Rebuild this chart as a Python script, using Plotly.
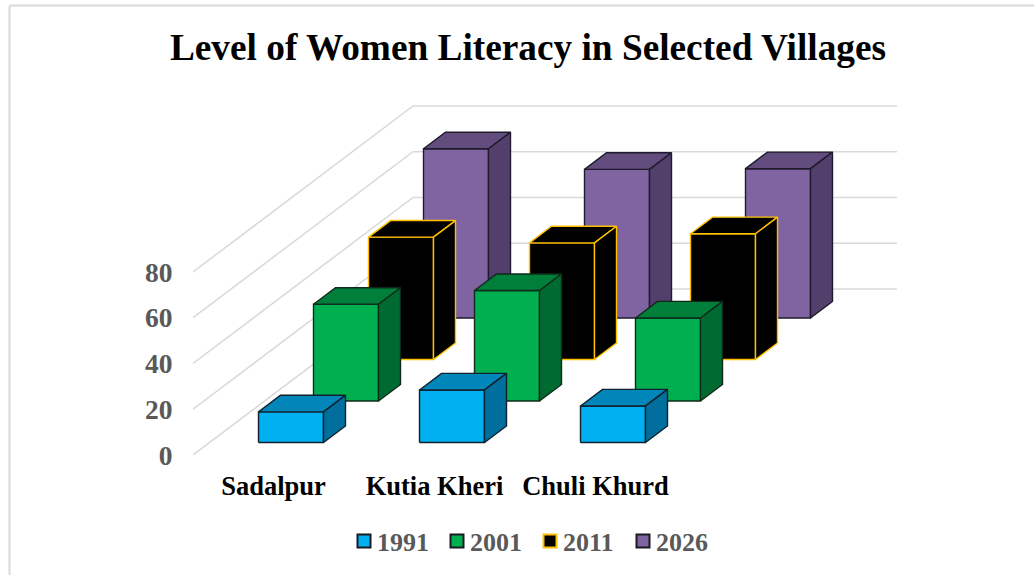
import plotly.graph_objects as go

categories = ["Sadalpur", "Kutia Kheri", "Chuli Khurd"]
years = ["1991", "2001", "2011", "2026"]
v1991 = [13.4, 23, 16]
v2001 = [42.3, 48.3, 36.3]
v2011 = [53.5, 51, 55]
v2026 = [74, 65, 65.3]
series_values = [v1991, v2001, v2011, v2026]
y_ticks = [0, 20, 40, 60, 80]

front_colors = ["#00B0F0", "#00B050", "#000000", "#8064A2"]
top_colors = ["#0086B8", "#007F3A", "#000000", "#634D7E"]
side_colors = ["#006F9E", "#006B30", "#000000", "#533F6B"]
edge_colors = ["#10202C", "#0F2A1A", "#FFC000", "#1F1A2C"]
GRID = "#D9D9D9"
TEXT = "#595959"
SERIF = "Liberation Serif"

W, H = 1034, 575
L, R, T, B = 193, 897, 100, 455
X_UNIT = 161.0          # px per category
Y_UNIT = 183.0 / 80     # px per value unit
X_MIN = -0.5
X_MAX = X_MIN + (R - L) / X_UNIT
Y_MAX = (B - T) / Y_UNIT
DEPTH_X = 220.0 / X_UNIT   # floor depth in x units
DEPTH_Y = 166.0 / Y_UNIT   # floor depth in y units
HALF_W = 32.5 / X_UNIT
BAR_SHIFT = 1.0 / X_UNIT
N = len(years)


def proj(x, v, d):
    return x + d * DEPTH_X, v + d * DEPTH_Y


def poly(points):
    xs, ys = [], []
    for x, v, d in points:
        px, py = proj(x, v, d)
        xs.append(px)
        ys.append(py)
    xs.append(xs[0])
    ys.append(ys[0])
    return xs, ys


fig = go.Figure()

# legend entries
for s, year in enumerate(years):
    fig.add_trace(go.Scatter(
        x=[None], y=[None], mode="markers", name=year, hoverinfo="skip",
        marker=dict(symbol="square", size=13, color=front_colors[s],
                    line=dict(color="#FFC000" if s == 2 else "#1A1A22", width=2)),
    ))

# walls
for t in y_ticks:
    xs = [proj(X_MIN, t, 0)[0], proj(X_MIN, t, 1)[0], X_MAX]
    ys = [proj(X_MIN, t, 0)[1], proj(X_MIN, t, 1)[1], proj(X_MIN, t, 1)[1]]
    fig.add_trace(go.Scatter(x=xs, y=ys, mode="lines", showlegend=False, hoverinfo="skip",
                             line=dict(color=GRID, width=1.5)))


def face(xs, ys, fill, edge):
    fig.add_trace(go.Scatter(
        x=xs, y=ys, mode="lines", fill="toself", fillcolor=fill, showlegend=False,
        hoverinfo="skip", line=dict(color=edge, width=1.4), cliponaxis=False,
    ))


# bars, back to front
for s in range(N - 1, -1, -1):
    d0 = (s + 0.3) / N
    d1 = (s + 0.7) / N
    for c in range(len(categories)):
        v = series_values[s][c]
        a, b = c - HALF_W + BAR_SHIFT, c + HALF_W + BAR_SHIFT
        xs, ys = poly([(a, 0, d0), (b, 0, d0), (b, v, d0), (a, v, d0)])
        face(xs, ys, front_colors[s], edge_colors[s])
        xs, ys = poly([(a, v, d0), (b, v, d0), (b, v, d1), (a, v, d1)])
        face(xs, ys, top_colors[s], edge_colors[s])
        xs, ys = poly([(b, 0, d0), (b, 0, d1), (b, v, d1), (b, v, d0)])
        face(xs, ys, side_colors[s], edge_colors[s])

fig.update_layout(
    width=W, height=H, autosize=False,
    margin=dict(l=L, r=W - R, t=T, b=H - B, pad=0),
    paper_bgcolor="white", plot_bgcolor="rgba(0,0,0,0)",
    title=dict(text="Level of Women Literacy in Selected Villages",
               x=528 / W, xanchor="center", xref="container",
               y=1 - 47 / H, yanchor="middle", yref="container",
               font=dict(family=SERIF, size=37.3, color="#000000", weight=700)),
    xaxis=dict(range=[X_MIN, X_MAX], tickvals=list(range(len(categories))), ticktext=categories,
               showgrid=False, zeroline=False, showline=False,
               ticks="outside", ticklen=7, tickcolor="rgba(0,0,0,0)",
               tickfont=dict(family=SERIF, size=26.5, color="#000000", weight=700)),
    yaxis=dict(range=[0, Y_MAX], tickvals=y_ticks,
               showgrid=False, zeroline=False, showline=False,
               ticks="outside", ticklen=14, tickcolor="rgba(0,0,0,0)",
               tickfont=dict(family=SERIF, size=27.5, color=TEXT, weight=700)),
    legend=dict(orientation="h", x=344 / W, xref="container", xanchor="left",
                y=1 - 541 / H, yref="container", yanchor="middle",
                entrywidth=48, entrywidthmode="pixels",
                font=dict(family=SERIF, size=26, color=TEXT, weight=700),
                bgcolor="rgba(0,0,0,0)"),
    shapes=[
        dict(type="line", xref="paper", yref="paper",
             x0=(9.5 - L) / (R - L), x1=(W - L) / (R - L),
             y0=(B - 5.5) / (B - T), y1=(B - 5.5) / (B - T),
             line=dict(color=GRID, width=2)),
        dict(type="line", xref="paper", yref="paper",
             x0=(9.5 - L) / (R - L), x1=(9.5 - L) / (R - L),
             y0=(B - 5.5) / (B - T), y1=(B - H) / (B - T),
             line=dict(color=GRID, width=2)),
    ],
)

POST = (
    "document.body.style.margin='0';document.body.style.overflow='hidden';"
    "document.querySelectorAll('.legendtext').forEach(function(t){t.setAttribute('x','33');});"
)
fig.write_html("out.html", config={"displayModeBar": False}, post_script=POST)
